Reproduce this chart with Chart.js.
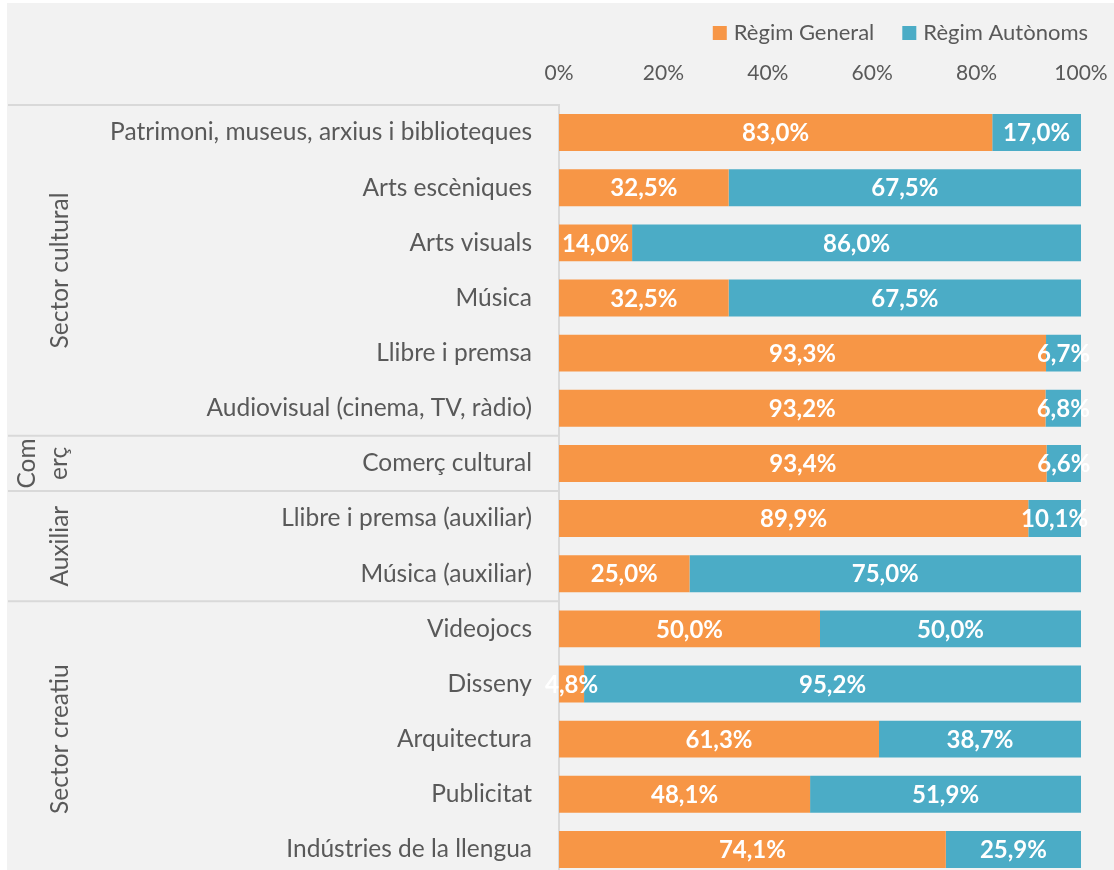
<!DOCTYPE html>
<html>
<head>
<meta charset="utf-8">
<script src="https://cdn.jsdelivr.net/npm/chart.js@4"></script>
<style>
  html, body { margin: 0; padding: 0; background: #ffffff; overflow: hidden; }
  #wrap { position: absolute; left: 7px; top: 3px; width: 1107px; height: 874px; background: #f2f2f2; }
  canvas { display: block; }
</style>
</head>
<body>
<div id="wrap"><canvas id="chart" width="1107" height="874"></canvas></div>
<script>
const categories = [
  'Patrimoni, museus, arxius i biblioteques',
  'Arts escèniques',
  'Arts visuals',
  'Música',
  'Llibre i premsa',
  'Audiovisual (cinema, TV, ràdio)',
  'Comerç cultural',
  'Llibre i premsa (auxiliar)',
  'Música (auxiliar)',
  'Videojocs',
  'Disseny',
  'Arquitectura',
  'Publicitat',
  'Indústries de la llengua'
];
const regimGeneral = [83.0, 32.5, 14.0, 32.5, 93.3, 93.2, 93.4, 89.9, 25.0, 50.0, 4.8, 61.3, 48.1, 74.1];
const regimAutonoms = [17.0, 67.5, 86.0, 67.5, 6.7, 6.8, 6.6, 10.1, 75.0, 50.0, 95.2, 38.7, 51.9, 25.9];
const seriesNames = ['Règim General', 'Règim Autònoms'];
const xTicks = [0, 20, 40, 60, 80, 100];

// grups de categories (primera i última fila de cada grup)
const groupNames = [['Sector cultural'], ['Com', 'erç'], ['Auxiliar'], ['Sector creatiu']];
const groupFirst = [0, 6, 7, 9];
const groupLast = [5, 6, 8, 13];

const FONT = 'Lato';
const TXT = '#595959';
const LINE = '#d9d9d9';

const fmt = v => v.toFixed(1).replace('.', ',') + '%';

const decorations = {
  id: 'decorations',
  afterDatasetsDraw(chart) {
    const ctx = chart.ctx;
    const area = chart.chartArea;
    const y = chart.scales.y;

    // etiquetes de dades
    ctx.save();
    ctx.font = 'bold 24px ' + FONT;
    ctx.fillStyle = '#ffffff';
    ctx.textAlign = 'center';
    ctx.textBaseline = 'middle';
    chart.data.datasets.forEach((ds, di) => {
      chart.getDatasetMeta(di).data.forEach((bar, i) => {
        const cx = (bar.x + bar.base) / 2;
        ctx.fillText(fmt(ds.data[i]), cx, bar.y + 1);
      });
    });
    ctx.restore();

    // línies separadores i noms dels grups
    ctx.save();
    ctx.strokeStyle = LINE;
    ctx.lineWidth = 2;
    const rowEdge = i => {
      if (i <= 0) return area.top;
      return (y.getPixelForValue(i - 1) + y.getPixelForValue(i)) / 2;
    };
    groupFirst.forEach((first, g) => {
      const top = rowEdge(first);
      ctx.beginPath();
      ctx.moveTo(1, top);
      ctx.lineTo(area.left, top);
      ctx.stroke();
      const bottom = groupLast[g] + 1 >= categories.length ? area.bottom : rowEdge(groupLast[g] + 1);
      const mid = (top + bottom) / 2;
      const lines = groupNames[g];
      ctx.fillStyle = TXT;
      ctx.font = '24.5px ' + FONT;
      ctx.textAlign = 'center';
      ctx.textBaseline = 'middle';
      lines.forEach((t, k) => {
        ctx.save();
        ctx.translate(lines.length > 1 ? 20 + k * 32 : 53, mid);
        ctx.rotate(-Math.PI / 2);
        ctx.fillText(t, 0, 0);
        ctx.restore();
      });
    });
    ctx.restore();

    // llegenda
    ctx.save();
    ctx.font = '22px ' + FONT;
    ctx.textBaseline = 'middle';
    let xr = 1081;
    for (let di = chart.data.datasets.length - 1; di >= 0; di--) {
      const ds = chart.data.datasets[di];
      const w = ctx.measureText(ds.label).width;
      ctx.fillStyle = TXT;
      ctx.fillText(ds.label, xr - w, 30);
      ctx.fillStyle = ds.backgroundColor;
      ctx.fillRect(xr - w - 21, 23, 14, 14);
      xr = xr - w - 21 - 28;
    }
    ctx.restore();
  }
};

new Chart(document.getElementById('chart'), {
  type: 'bar',
  data: {
    labels: categories,
    datasets: [
      { label: seriesNames[0], data: regimGeneral, backgroundColor: '#f79646' },
      { label: seriesNames[1], data: regimAutonoms, backgroundColor: '#4bacc6' }
    ]
  },
  options: {
    indexAxis: 'y',
    responsive: false,
    animation: false,
    devicePixelRatio: 1,
    layout: { padding: { left: 0, right: 33, top: 0, bottom: 0 } },
    datasets: { bar: { categoryPercentage: 1, barPercentage: 0.67, borderWidth: 0 } },
    plugins: { legend: { display: false }, tooltip: { enabled: false } },
    scales: {
      x: {
        position: 'top',
        stacked: true,
        min: 0,
        max: 100,
        afterBuildTicks: s => { s.ticks = xTicks.map(v => ({ value: v })); },
        afterFit: s => {
          s.height = 102;
          s.paddingLeft = 0; s.paddingRight = 0; s.paddingTop = 0; s.paddingBottom = 0;
        },
        grid: { display: false, drawTicks: false },
        border: { display: false },
        ticks: { color: TXT, font: { family: FONT, size: 21 }, padding: 19, callback: v => v + '%' }
      },
      y: {
        stacked: true,
        afterFit: s => {
          s.width = 552;
          s.paddingLeft = 0; s.paddingRight = 0; s.paddingTop = 0; s.paddingBottom = 0;
        },
        grid: { display: false, drawTicks: false },
        border: { display: true, color: LINE, width: 2 },
        ticks: { color: TXT, font: { family: FONT, size: 24.5 }, padding: 27 }
      }
    }
  },
  plugins: [decorations]
});
</script>
</body>
</html>
